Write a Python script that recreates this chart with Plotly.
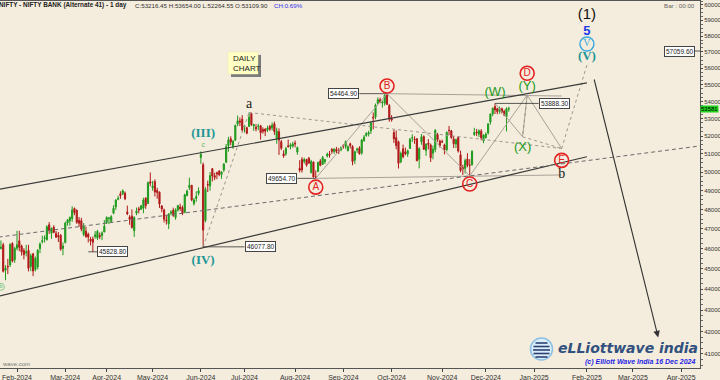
import math
import pandas as pd
import plotly.graph_objects as go

# ---------------- data ----------------
holidays_2024 = ["2024-01-22", "2024-01-26", "2024-03-08", "2024-03-25", "2024-03-29",
                 "2024-04-11", "2024-04-17", "2024-05-01", "2024-05-20", "2024-06-17",
                 "2024-07-17", "2024-08-15", "2024-10-02", "2024-11-15", "2024-11-20",
                 "2024-12-25"]

# daily candles (open, high, low, close)
jan_2024 = [(45320, 45850, 45070, 45713), (46000, 46400, 45950, 46058), (46180, 46280, 44810, 44866),
            (44920, 45160, 44430, 45015), (45110, 45480, 44730, 45082), (45180, 46260, 45080, 46191),
            (46250, 46310, 45300, 45367), (45430, 46080, 45280, 45997)]
feb_2024 = [(46010, 46890, 45900, 46188), (46380, 46890, 45860, 46058), (46120, 46190, 45640, 45826),
            (45890, 46010, 45450, 45691), (45790, 46180, 45600, 45818), (45900, 46180, 44860, 45012),
            (45100, 45740, 44870, 45634), (45720, 45780, 44630, 44882), (44950, 45590, 44860, 45502),
            (45080, 45960, 44960, 45908), (45990, 46300, 45760, 46218), (46340, 46640, 46250, 46384),
            (46500, 46660, 46300, 46535), (46440, 47180, 46400, 47094), (47200, 47340, 46730, 46919),
            (46770, 47060, 46480, 47019), (47080, 47180, 46770, 46811), (46760, 46880, 46520, 46576),
            (46650, 46830, 46320, 46588), (46660, 46730, 45880, 45963), (46000, 46300, 45660, 46121)]
mar_2024 = [(46300, 47360, 46250, 47286), (47300, 47490, 47160, 47456), (47400, 47630, 47150, 47581),
            (47520, 48160, 47360, 47965), (48050, 48100, 47700, 47835), (47950, 48000, 47250, 47327),
            (47430, 47600, 47100, 47282), (47410, 47560, 46870, 46981), (46700, 47290, 46620, 47110),
            (46870, 47100, 46540, 46594), (46720, 46800, 46300, 46575), (46460, 46580, 46150, 46385),
            (46470, 46600, 45828.8, 46310), (46600, 46880, 46490, 46685), (46520, 46940, 46420, 46863),
            (46650, 46800, 46470, 46600), (46650, 46860, 46420, 46785), (46830, 47440, 46820, 47124)]
apr_2024 = [(47300, 47640, 47240, 47578), (47520, 47610, 47240, 47545), (47380, 47700, 47300, 47624),
            (47800, 48220, 47750, 48060), (48130, 48540, 47980, 48493), (48530, 48720, 48490, 48581),
            (48820, 48960, 48560, 48730), (48830, 49060, 48760, 48986), (48860, 48950, 48490, 48565),
            (47870, 48200, 47700, 47773), (47600, 47700, 47200, 47484), (47650, 48000, 47000, 47069),
            (46900, 47640, 46580, 47574), (47800, 48100, 47700, 47924), (48030, 48140, 47790, 47970),
            (48010, 48230, 47970, 48189), (48070, 48620, 47800, 48494), (48600, 48630, 48030, 48201),
            (48310, 49480, 48300, 49424), (49470, 49974, 49230, 49396)]
may_2024 = [(49150, 49520, 48990, 49231), (49480, 49600, 48680, 48923), (49000, 49150, 48560, 48895),
            (48910, 48950, 48080, 48285), (48180, 48230, 47850, 48021), (47970, 48040, 47320, 47487),
            (47450, 47670, 47210, 47421), (47250, 47810, 46980, 47754), (47800, 47960, 47690, 47859),
            (47960, 48090, 47610, 47687), (47580, 48060, 47460, 47977), (47970, 48230, 47890, 48199),
            (48120, 48300, 47920, 48048), (48100, 48200, 47700, 47781), (47850, 48830, 47800, 48768),
            (48730, 49050, 48690, 48971), (49160, 49688, 49030, 49281), (49280, 49300, 48430, 48500),
            (48300, 48600, 48200, 48502), (48580, 48960, 48400, 48682), (48850, 49170, 48730, 48983)]
jun_2024 = [(50800, 51133, 50450, 50980), (50400, 50520, 46077.8, 46928), (47420, 49180, 47330, 49054),
            (49320, 49530, 48920, 49291), (49250, 50000, 48990, 49803), (50180, 50220, 49490, 49781),
            (49800, 49960, 49560, 49705), (49960, 50020, 49610, 49895), (50050, 50100, 49770, 49847),
            (49870, 50040, 49630, 50002), (50110, 50480, 50000, 50440), (50540, 51550, 50500, 51398),
            (51460, 51960, 51120, 51783), (51850, 51990, 51480, 51661), (51410, 51780, 51280, 51703),
            (51770, 52660, 51730, 52606), (52690, 53180, 52560, 52870), (52860, 53060, 52570, 52811),
            (52970, 53200, 52250, 52342)]
jul_2024 = [(52530, 52640, 52200, 52574), (52480, 52530, 52100, 52168), (52550, 53357, 52520, 53089),
            (53300, 53310, 52580, 52660), (52580, 52700, 52300, 52660), (52500, 52680, 52270, 52425),
            (52540, 52700, 52340, 52568), (52590, 52640, 51800, 52189), (52370, 52500, 52140, 52270),
            (52400, 52440, 52000, 52278), (52350, 52590, 52230, 52455), (52550, 52640, 52300, 52396),
            (52470, 52780, 52320, 52620), (52700, 52830, 52070, 52265), (51880, 52480, 51570, 52280),
            (52250, 52440, 50940, 51778), (51680, 51780, 51210, 51318), (51000, 51200, 50780, 50888),
            (51000, 51390, 50900, 51295), (51450, 51800, 51350, 51406), (51410, 51600, 51250, 51499),
            (51440, 51680, 51350, 51553)]
aug_2024 = [(51600, 51750, 51360, 51564), (51100, 51410, 50950, 51350), (50200, 50650, 49980, 50092),
            (50690, 50820, 49970, 50119), (50580, 50780, 50460, 50684), (50690, 50720, 50290, 50381),
            (50760, 50830, 50470, 50484), (49980, 50670, 49920, 50577), (50540, 50590, 49690, 49731),
            (49730, 50090, 49654.7, 49727), (50030, 50570, 49990, 50516), (50610, 50710, 50310, 50368),
            (50420, 50880, 50390, 50803), (50570, 50720, 50440, 50685), (50880, 51070, 50800, 50985),
            (50980, 51160, 50790, 50933), (51240, 51330, 51000, 51148), (51130, 51290, 51000, 51279),
            (51250, 51390, 51030, 51143), (51190, 51330, 50990, 51152), (51220, 51410, 51150, 51351)]
sep_2024 = [(51460, 51540, 51290, 51439), (51410, 51750, 51280, 51689), (51170, 51480, 51150, 51400),
            (51560, 51630, 51300, 51473), (51420, 51480, 50370, 50577), (50650, 51180, 50440, 51117),
            (51210, 51340, 51060, 51272), (51320, 51430, 50960, 51010), (51050, 51840, 50950, 51772),
            (51740, 52060, 51680, 51938), (52040, 52220, 51960, 52153), (52120, 52300, 51980, 52188),
            (52300, 52820, 52120, 52750), (53080, 53360, 52380, 53037), (53100, 53880, 52960, 53793),
            (53890, 54240, 53830, 54105), (54110, 54230, 53900, 53968), (53910, 54060, 53640, 53946),
            (53900, 54420, 53760, 54375), (54400, 54464.9, 53790, 53834), (53760, 53850, 52820, 52978)]
oct_2024 = [(53000, 53200, 52830, 52922), (52200, 52350, 51610, 51845), (51910, 52320, 51260, 51462),
            (51680, 51740, 50190, 50479), (50560, 51130, 50480, 51021), (51280, 51520, 50750, 50835),
            (51110, 51350, 50920, 51007), (50990, 51240, 50830, 51172), (51300, 51900, 51290, 51816),
            (51880, 52100, 51660, 51906), (51830, 51990, 51560, 51801), (51850, 51880, 50590, 50622),
            (50700, 51380, 50200, 51288), (51680, 52120, 51510, 51962), (51970, 52040, 51230, 51257),
            (51180, 51600, 50890, 51531), (51600, 51830, 51250, 51531), (51500, 51580, 50550, 50787),
            (51040, 51470, 50700, 51259), (51240, 52400, 51090, 52320), (52080, 52180, 51680, 51808),
            (51720, 51800, 51350, 51475)]
nov_2024 = [(51690, 51800, 51600, 51673), (51500, 51570, 50970, 51215), (51230, 52270, 51140, 52207),
            (52330, 52580, 52060, 52317), (52300, 52350, 51840, 51916), (51840, 52000, 51330, 51561),
            (51550, 51850, 51320, 51801), (51920, 52000, 51070, 51157), (50950, 51180, 49990, 50088),
            (50240, 50400, 49840, 50179), (50200, 50740, 49920, 50626), (50710, 51040, 50260, 50363),
            (50380, 50710, 49787, 50372), (50400, 51210, 50350, 51135), (52090, 52470, 52010, 52207),
            (52230, 52400, 52000, 52191), (52110, 52380, 51940, 52301), (52280, 52400, 51760, 51906),
            (51730, 52100, 51600, 52055)]
dec_2024 = [(51920, 52210, 51860, 52109), (52180, 52740, 52080, 52695), (52800, 53300, 52650, 53266),
            (53270, 53650, 53140, 53603), (53700, 53888.3, 53270, 53509), (53580, 53620, 53260, 53407),
            (53420, 53700, 53280, 53577), (53580, 53640, 53300, 53391), (53420, 53520, 53140, 53216),
            (53109.9, 53654, 52264.55, 53583), (53560, 53700, 53400, 53581)]

month_ticks = ["2024-02-01", "2024-03-01", "2024-04-01", "2024-05-02", "2024-06-03", "2024-07-01",
               "2024-08-01", "2024-09-02", "2024-10-01", "2024-11-01", "2024-12-02", "2025-01-01",
               "2025-02-03", "2025-03-03", "2025-04-01"]
month_labels = ["Feb-2024", "Mar-2024", "Apr-2024", "May-2024", "Jun-2024", "Jul-2024", "Aug-2024",
                "Sep-2024", "Oct-2024", "Nov-2024", "Dec-2024", "Jan-2025", "Feb-2025", "Mar-2025",
                "Apr-2025"]
price_ticks = list(range(41000, 60001, 1000))

# wave-count trend lines (date, price)
channel_dates = ["2024-01-18", "2025-02-03"]
channel_upper = [49060, 55115]
channel_lower = [43660, 50840]
mid_dates = ["2024-01-18", "2025-04-14"]
mid_prices = [46570, 51490]

tri_dates = ["2024-08-14", "2024-09-27", "2024-11-21", "2024-12-27", "2025-01-17"]
tri_prices = [49654.7, 54464.9, 49787, 54380, 51300]
bd_dates = ["2024-09-27", "2025-01-17"]
bd_prices = [54464.9, 54325]
ac_dates = ["2024-08-14", "2025-01-17"]
ac_prices = [49654.7, 49840]
wxy_dates = ["2024-12-06", "2024-12-24", "2024-12-27"]
wxy_prices = [53888.3, 51960, 54380]

proj_iv_a_dates = ["2024-06-04", "2024-07-03"]
proj_iv_a_prices = [46077.8, 53357]
proj_a_e_dates = ["2024-07-03", "2025-01-17"]
proj_a_e_prices = [53357, 51300]
proj_d_x_e_dates = ["2024-12-27", "2024-12-24", "2025-01-17"]
proj_d_x_e_prices = [54380, 51960, 51300]
proj_e_v_dates = ["2025-01-17", "2025-02-03"]
proj_e_v_prices = [51300, 56196]

arrow_dates = ["2025-02-06", "2025-03-18"]
arrow_prices = [55404, 41742]

# price marker boxes
marker_values = [45828.8, 46077.8, 49654.7, 54464.9, 53888.3, 57059.6]
marker_bar_dates = ["2024-03-18", "2024-06-04", "2024-08-14", "2024-09-27", "2024-12-06", "2025-04-14"]
marker_box_dates = ["2024-03-22", "2024-07-01", "2024-08-02", "2024-09-11", "2025-01-03", "2025-04-09"]
marker_box_side = ["left", "left", "right", "right", "left", "right"]

# wave labels
red_letters = ["A", "B", "C", "D", "E"]
red_dates = ["2024-08-14", "2024-09-27", "2024-11-21", "2024-12-27", "2025-01-17"]
red_prices = [49180, 54920, 49350, 55690, 50640]
green_labels = ["(W)", "(Y)", "(X)"]
green_dates = ["2024-12-06", "2024-12-27", "2024-12-24"]
green_prices = [54530, 54880, 51330]
teal_labels = ["(III)", "(IV)", "(V)"]
teal_dates = ["2024-06-04", "2024-06-04", "2025-02-03"]
teal_prices = [52110, 45390, 56700]
minor_labels = ["a", "b"]
minor_dates = ["2024-07-03", "2025-01-17"]
minor_prices = [53850, 49880]
degree_dates = ["2025-02-03"]
degree1_price = [59300]
five_price = [58300]
circled_v_price = [57500]

last_close = 53581

# ---------------- build ----------------
BG = "#F4ECDC"
PW = 700.0          # plot width in px
candles = jan_2024 + feb_2024 + mar_2024 + apr_2024 + may_2024 + jun_2024 + jul_2024 + \
    aug_2024 + sep_2024 + oct_2024 + nov_2024 + dec_2024
days = [d for d in pd.bdate_range("2024-01-18", "2024-12-16")
        if d.strftime("%Y-%m-%d") not in holidays_2024]
assert len(days) == len(candles), (len(days), len(candles))

fig = go.Figure()


def line(xs, ys, color, width=1, dash="solid"):
    fig.add_trace(go.Scatter(x=xs, y=ys, mode="lines", hoverinfo="skip",
                             line=dict(color=color, width=width, dash=dash)))


# light triangle lines first (behind candles)
line(tri_dates, tri_prices, "#A8A298", 1)
line(bd_dates, bd_prices, "#A8A298", 1)
line(ac_dates, ac_prices, "#A8A298", 1)
line(wxy_dates, wxy_prices, "#A8A298", 1)
line(proj_iv_a_dates, proj_iv_a_prices, "#9C968C", 1, "3px,3px")
line(proj_a_e_dates, proj_a_e_prices, "#9C968C", 1, "3px,3px")
line(proj_d_x_e_dates, proj_d_x_e_prices, "#9C968C", 1, "3px,3px")
line(proj_e_v_dates, proj_e_v_prices, "#9C968C", 1, "3px,3px")

fig.add_trace(go.Candlestick(
    x=days,
    open=[c[0] for c in candles], high=[c[1] for c in candles],
    low=[c[2] for c in candles], close=[c[3] for c in candles],
    increasing=dict(line=dict(color="#1F9B1F", width=1), fillcolor="#1F9B1F"),
    decreasing=dict(line=dict(color="#B01818", width=1), fillcolor="#B01818"),
    whiskerwidth=0, hoverinfo="skip"))

line(channel_dates, channel_upper, "#3A3A3A", 1.2)
line(channel_dates, channel_lower, "#3A3A3A", 1.2)
line(mid_dates, mid_prices, "#6A6A6A", 1, "4px,3px")

# price marker leader lines
for v, d0, d1 in zip(marker_values, marker_bar_dates, marker_box_dates):
    line([d0, d1], [v, v], "#333333", 0.8)

# wave labels
fig.add_trace(go.Scatter(x=red_dates, y=red_prices, mode="markers+text", text=red_letters,
                         textposition="middle center", hoverinfo="skip",
                         textfont=dict(family="Arial, Liberation Sans", size=10, color="#E42222"),
                         marker=dict(symbol="circle-open", size=14, color="#E42222",
                                     line=dict(width=1.6, color="#E42222"))))
fig.add_trace(go.Scatter(x=green_dates, y=green_prices, mode="text", text=green_labels,
                         hoverinfo="skip",
                         textfont=dict(family="Arial, Liberation Sans", size=13, color="#229A22")))
fig.add_trace(go.Scatter(x=teal_dates, y=teal_prices, mode="text",
                         text=["<b>%s</b>" % t for t in teal_labels], hoverinfo="skip",
                         textfont=dict(family="Liberation Serif, Times New Roman", size=13,
                                       color="#1E9696")))
fig.add_trace(go.Scatter(x=minor_dates, y=minor_prices, mode="text", text=minor_labels,
                         hoverinfo="skip",
                         textfont=dict(family="Liberation Serif, Times New Roman", size=14,
                                       color="#222222")))
fig.add_trace(go.Scatter(x=degree_dates, y=degree1_price, mode="text", text=["(1)"],
                         hoverinfo="skip",
                         textfont=dict(family="Arial, Liberation Sans", size=15, color="#111111")))
fig.add_trace(go.Scatter(x=degree_dates, y=five_price, mode="text", text=["<b>5</b>"],
                         hoverinfo="skip",
                         textfont=dict(family="Arial, Liberation Sans", size=13, color="#1E3BE8")))
fig.add_trace(go.Scatter(x=degree_dates, y=circled_v_price, mode="markers+text", text=["V"],
                         textposition="middle center", hoverinfo="skip",
                         textfont=dict(family="Liberation Serif", size=10, color="#3AA8DE"),
                         marker=dict(symbol="circle-open", size=14, color="#3AA8DE",
                                     line=dict(width=1.4, color="#3AA8DE"))))
fig.add_trace(go.Scatter(x=["2024-06-04"], y=[51470], mode="text", text=["c"], hoverinfo="skip",
                         textfont=dict(family="Arial", size=7, color="#66BB66")))
fig.add_trace(go.Scatter(x=["2024-01-19"], y=[44110], mode="markers+text", text=["b"],
                         textposition="middle center", hoverinfo="skip",
                         textfont=dict(family="Arial", size=6, color="#66BB66"),
                         marker=dict(symbol="circle-open", size=7, color="#88CC88")))

small = "Arial, Liberation Sans"
ann = []
for v, d, side in zip(marker_values, marker_box_dates, marker_box_side):
    ann.append(dict(x=d, y=math.log10(v), xref="x", yref="y", text="%.2f" % v,
                    showarrow=False, xanchor=side, yanchor="middle",
                    font=dict(family=small, size=6.5, color="#222222"),
                    bgcolor="#FFFFFF", bordercolor="#444444", borderwidth=1, borderpad=1))
# arrow
ann.append(dict(x=arrow_dates[1], y=math.log10(arrow_prices[1]), xref="x", yref="y",
                ax=arrow_dates[0], ay=math.log10(arrow_prices[0]), axref="x", ayref="y",
                text="", showarrow=True, arrowhead=2, arrowsize=1.2, arrowwidth=1.1,
                arrowcolor="#333333"))
# last price tag
ann.append(dict(x=1.0, xref="paper", y=math.log10(last_close), yref="y", xanchor="left",
                text="%d" % last_close, showarrow=False, bgcolor="#1ED21E", borderpad=0,
                font=dict(family=small, size=6, color="#000000")))

ann += [
    dict(x=-3 / PW, y=0.989, xref="paper", yref="paper", xanchor="left", yanchor="middle",
         text="<b>NIFTY - NIFTY BANK (Alternate 41) - 1 day</b>", showarrow=False,
         font=dict(family=small, size=6.4, color="#222222")),
    dict(x=133 / PW, y=0.989, xref="paper", yref="paper", xanchor="left", yanchor="middle",
         text="C:53216.45 H:53654.00 L:52264.55 O:53109.90", showarrow=False,
         font=dict(family=small, size=6.2, color="#333333")),
    dict(x=272 / PW, y=0.989, xref="paper", yref="paper", xanchor="left", yanchor="middle",
         text="CH:0.69%", showarrow=False, font=dict(family=small, size=6.2, color="#3333EE")),
    dict(x=697 / PW, y=0.989, xref="paper", yref="paper", xanchor="right", yanchor="middle",
         text="Bar : 00:00", showarrow=False, font=dict(family=small, size=6.2, color="#666666")),
    dict(x=231 / PW, y=0.831, xref="paper", yref="paper", xanchor="left", yanchor="middle",
         text="DAILY<br>CHART", align="left", showarrow=False,
         font=dict(family=small, size=8, color="#222222")),
    dict(x=700 / PW, y=0.0545, xref="paper", yref="paper", xanchor="right", yanchor="middle",
         text="<b><i>eLLiottwave india</i></b>", showarrow=False,
         font=dict(family="DejaVu Sans, Arial", size=14, color="#31507E")),
    dict(x=697 / PW, y=0.0163, xref="paper", yref="paper", xanchor="right", yanchor="middle",
         text="<b><i>(c) Elliott Wave India 16 Dec 2024</i></b>", showarrow=False,
         font=dict(family=small, size=7, color="#1F1FE6")),
    dict(x=0, y=0.011, xref="paper", yref="paper", xanchor="left", yanchor="middle",
         text="wave.com", showarrow=False, font=dict(family=small, size=6, color="#777777")),
]

shapes = [
    # DAILY CHART note with shadow
    dict(type="rect", xref="paper", yref="paper", x0=231 / PW, x1=261 / PW, y0=0.793, y1=0.853,
         fillcolor="#7A7A7A", line=dict(width=0), layer="above"),
    dict(type="rect", xref="paper", yref="paper", x0=228 / PW, x1=258 / PW, y0=0.801, y1=0.861,
         fillcolor="#FFFFC4", line=dict(color="#E8E8A8", width=0.5), layer="above"),
    # logo
    dict(type="circle", xref="paper", yref="paper", x0=530.5 / PW, x1=552.5 / PW,
         y0=0.0218, y1=0.0817,
         fillcolor="#DCEEFA", line=dict(color="#8CC0E4", width=1.5), layer="above"),
]
for dy, half in [(-6, 6), (-2.5, 8), (1, 8.5), (4.5, 8), (8, 6)]:
    yp = (368 - (349 + dy)) / 367
    shapes.append(dict(type="line", xref="paper", yref="paper",
                       x0=(541.5 - half) / PW, x1=(541.5 + half) / PW, y0=yp, y1=yp,
                       line=dict(color="#2B3F73", width=1.6), layer="above"))

minor_vals = [v for v in range(40500, 60251, 250) if v % 1000 != 0]

fig.update_layout(
    width=720, height=380, margin=dict(l=0, r=20, t=1, b=12, autoexpand=False),
    paper_bgcolor=BG, plot_bgcolor=BG, showlegend=False,
    annotations=ann, shapes=shapes,
    xaxis=dict(type="date", rangeslider=dict(visible=False),
               range=["2024-01-18 14:24", "2025-04-11 04:48"],
               rangebreaks=[dict(bounds=["sat", "mon"]), dict(values=holidays_2024)],
               tickvals=month_ticks, ticktext=month_labels, ticks="outside", ticklen=3,
               tickcolor="#444444", showline=True, linecolor="#555555", mirror=True,
               showgrid=False, zeroline=False,
               tickfont=dict(family=small, size=7, color="#333333")),
    yaxis=dict(type="log", side="right", range=[math.log10(40370), math.log10(60262)],
               tickvals=price_ticks, ticktext=[str(v) for v in price_ticks],
               ticks="outside", ticklen=2, tickcolor="#444444", showline=True,
               linecolor="#555555", showgrid=False, zeroline=False, automargin=False,
               tickfont=dict(family=small, size=6, color="#333333"),
               minor=dict(tickvals=minor_vals, ticks="outside", ticklen=2, tickcolor="#666666")),
)

fig.write_html("out.html", config={"displayModeBar": False, "staticPlot": True},
               post_script="document.body.style.margin='0px';document.body.style.overflow='hidden';")
